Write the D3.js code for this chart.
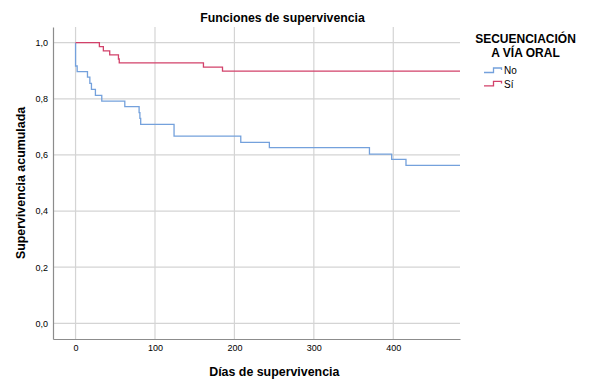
<!DOCTYPE html>
<html>
<head>
<meta charset="utf-8">
<script src="https://cdn.jsdelivr.net/npm/d3@7"></script>
<style>
  body { margin: 0; background: #fff; }
  text { font-family: "Liberation Sans", Arial, sans-serif; fill: #000; }
</style>
</head>
<body>
<svg width="597" height="391"></svg>
<script>
// Kaplan-Meier steps: [day, survival after the drop]
const seriesNames = ["No", "Sí"];
const seriesColors = ["#74a1dc", "#d2416a"];
const stepsNo = [
  [0, 0.917], [2, 0.897], [15, 0.877], [18, 0.855], [20, 0.834], [25, 0.812],
  [33, 0.792], [62, 0.772], [80, 0.751], [81, 0.730], [82, 0.709], [124, 0.667],
  [208, 0.645], [244, 0.626], [370, 0.603], [398, 0.584], [416, 0.563]
];
const stepsSi = [
  [30, 0.986], [35, 0.971], [43, 0.957], [54, 0.942], [55, 0.928],
  [161, 0.913], [185, 0.899]
];
const lastDay = 484;
const xTicks = [0, 100, 200, 300, 400];
const yTicks = [0, 0.2, 0.4, 0.6, 0.8, 1.0];

const svg = d3.select("svg");
const plotL = 53, plotR = 460, plotT = 27, plotB = 339;

const x = d3.scaleLinear().domain([-28.4, lastDay]).range([plotL, plotR]);
const y = d3.scaleLinear().domain([-0.056, 1.056]).range([plotB, plotT]);

// Gridlines
svg.append("g").selectAll("line").data(yTicks).join("line")
  .attr("x1", plotL).attr("x2", plotR)
  .attr("y1", d => y(d)).attr("y2", d => y(d))
  .attr("stroke", "#d4d4d4").attr("stroke-width", 1.2);
svg.append("g").selectAll("line").data(xTicks).join("line")
  .attr("x1", d => x(d)).attr("x2", d => x(d))
  .attr("y1", plotT).attr("y2", plotB)
  .attr("stroke", "#d4d4d4").attr("stroke-width", 1.2);

// Axes
const fmt = d => d3.format(".1f")(d).replace(".", ",");
const yAxis = svg.append("g").attr("transform", `translate(${plotL},0)`)
  .call(d3.axisLeft(y).tickValues(yTicks).tickFormat(fmt).tickSize(0).tickPadding(5));
const xAxis = svg.append("g").attr("transform", `translate(0,${plotB})`)
  .call(d3.axisBottom(x).tickValues(xTicks).tickSize(0).tickPadding(6));
[yAxis, xAxis].forEach(a => {
  a.select(".domain").attr("stroke", "#8c8c8c").attr("stroke-width", 1.2);
  a.selectAll("text").attr("font-size", "9px").attr("fill", "#222")
    .attr("font-family", "'Liberation Sans', Arial, sans-serif");
});

// Survival curves
function toPoints(steps) {
  const pts = [[0, 1]];
  for (const [d, s] of steps) pts.push([d, s]);
  pts.push([lastDay, steps[steps.length - 1][1]]);
  return pts;
}
const line = d3.line().x(d => x(d[0])).y(d => y(d[1])).curve(d3.curveStepAfter);
[stepsNo, stepsSi].forEach((steps, i) => {
  svg.append("path").datum(toPoints(steps))
    .attr("d", line)
    .attr("fill", "none")
    .attr("stroke", seriesColors[i])
    .attr("stroke-width", 1.3);
});

// Titles
svg.append("text").attr("x", 282.5).attr("y", 21.5)
  .attr("text-anchor", "middle").attr("font-size", "12.3px").attr("font-weight", "bold")
  .text("Funciones de supervivencia");
svg.append("text").attr("x", 274.3).attr("y", 376)
  .attr("text-anchor", "middle").attr("font-size", "12.4px").attr("font-weight", "bold")
  .text("Días de supervivencia");
svg.append("text").attr("transform", "translate(25,183) rotate(-90)")
  .attr("text-anchor", "middle").attr("font-size", "12.4px").attr("font-weight", "bold")
  .text("Supervivencia acumulada");

// Legend
const lg = svg.append("g");
lg.append("text").attr("x", 525.5).attr("y", 42.6)
  .attr("text-anchor", "middle").attr("font-size", "12px").attr("font-weight", "bold")
  .text("SECUENCIACIÓN");
lg.append("text").attr("x", 525.5).attr("y", 56.6)
  .attr("text-anchor", "middle").attr("font-size", "12px").attr("font-weight", "bold")
  .text("A VÍA ORAL");
seriesNames.forEach((name, i) => {
  const yb = 72.5 + i * 13.4;
  lg.append("path")
    .attr("d", `M484,${yb}H493.5V${yb - 4.5}H501.5V${yb - 2.5}`)
    .attr("fill", "none").attr("stroke", seriesColors[i]).attr("stroke-width", 1.3);
  lg.append("text").attr("x", 504).attr("y", yb + 1.8)
    .attr("font-size", "10px").attr("fill", "#222").text(name);
});
</script>
</body>
</html>
